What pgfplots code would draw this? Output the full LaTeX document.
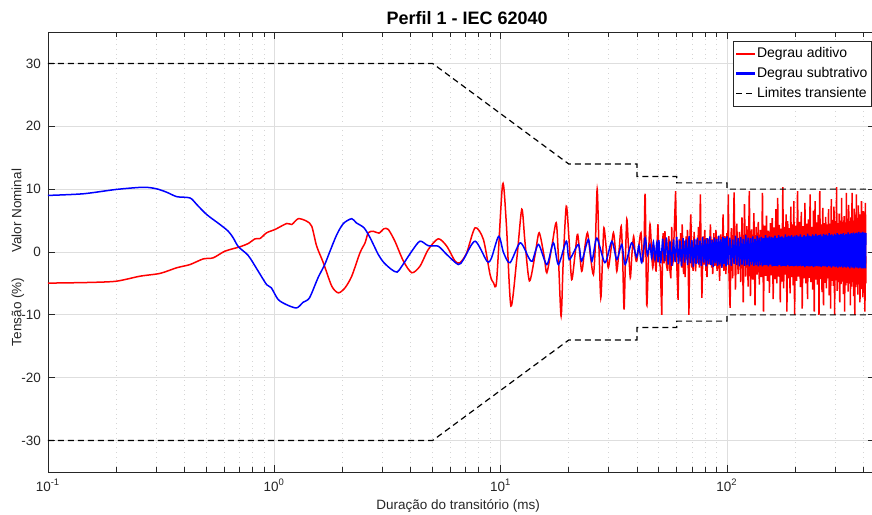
\documentclass[border=0pt]{standalone}
\usepackage{fontspec}
\setmainfont{Liberation Sans}
\usepackage{pgfplots}
\pgfplotsset{compat=1.18}
\definecolor{axgray}{RGB}{38,38,38}
\definecolor{gridgray}{RGB}{222,222,222}
\newcommand{\fs}{\fontsize{6.75}{8}\selectfont}
\begin{document}
\begin{tikzpicture}
\begin{axis}[
  at={(24pt,21pt)}, anchor=south west,
  scale only axis, width=413.4pt, height=220pt,
  xmode=log, xmin=0.1, xmax=450, ymin=-35, ymax=35,
  xtick={0.1,1,10,100},
  xticklabels={10\textsuperscript{-1},10\textsuperscript{0},10\textsuperscript{1},10\textsuperscript{2}},
  minor xtick={0.2,0.3,0.4,0.5,0.6,0.7,0.8,0.9,2,3,4,5,6,7,8,9,20,30,40,50,60,70,80,90,200,300,400},
  ytick={-30,-20,-10,0,10,20,30},
  yticklabels={-30,-20,-10,0,10,20,30},
  tick align=inside, tick pos=both,
  major tick length=3.5pt, minor tick length=2.5pt,
  xmajorgrids, xminorgrids, ymajorgrids,
  major grid style={color=gridgray, line width=0.4pt},
  minor grid style={color=gridgray!90!gray, dotted, line width=0.4pt},
  axis line style={color=axgray, line width=0.45pt},
  every tick/.style={color=axgray, line width=0.4pt},
  tick label style={font=\fs, color=axgray},
  every axis title shift=0pt,
  title={Perfil 1 - IEC 62040},
  title style={at={(axis description cs:0.507,1.032)}, anchor=center, yshift=0pt, font=\bfseries\fontsize{9}{11}\selectfont},
  xlabel={Duração do transitório (ms)},
  xlabel style={at={(axis description cs:0.496,-0.077)}, anchor=center, font=\fs, color=axgray},
  ylabel={Tensão (\%)\hspace{12.5pt}Valor Nominal},
  ylabel style={at={(axis description cs:-0.0363,0.4875)}, anchor=center, font=\fs, color=axgray},
  legend style={at={(axis description cs:0.829,0.980)}, anchor=north west, draw=axgray, line width=0.4pt, fill=white, font=\fontsize{7}{8}\selectfont, inner xsep=1pt, inner ysep=2pt, row sep=1.2pt, nodes={inner sep=1pt, text height=5.2pt, text depth=1.5pt}},
  legend cell align=left,
]
% Degrau aditivo (0.1 - 50 ms)
\addplot[color=red, line width=0.75pt, smooth, tension=0.45, forget plot] coordinates {
(0.1,-4.95)(0.15,-4.85)(0.2,-4.65)(0.255,-3.85)(0.313,-3.4)(0.371,-2.5)(0.424,-2.0)(0.485,-1.1)(0.537,-0.93)(0.605,0.13)(0.705,0.83)(0.767,1.35)(0.822,2.1)(0.865,2.15)(0.925,3.06)(1.007,3.58)(1.135,4.54)(1.194,4.38)(1.277,5.3)(1.39,4.9)(1.463,4.1)(1.539,0.92)(1.647,-1.72)(1.794,-5.44)(1.919,-6.5)(2.053,-5.7)(2.198,-3.85)(2.39,-0.13)(2.517,1.46)(2.6,3.06)(2.737,3.3)(2.9,3.0)(3.05,3.7)(3.19,3.58)(3.41,1.72)(3.72,-1.46)(4.05,-3.3)(4.4,-2.26)(4.79,0.4)(5.3,2.1)(5.78,0.92)(6.29,-1.46)(6.62,-1.7)(7.08,-0.13)(7.71,3.85)(8.39,2.0)(8.98,-3.6)(9.3,-4.9)(9.6,-4.6)(10.2,10.75)(10.6,4.4)(11.1,-8.6)(11.8,-0.9)(12.4,6.8)(12.8,1.7)(13.4,-4.6)(14.2,-0.4)(14.8,3.06)(15.6,-0.9)(16.0,-3.3)(16.8,0.67)(17.6,4.65)(18.0,-0.9)(18.5,-10.2)(18.9,-1.5)(19.5,7.3)
(20.05,2.0)(20.6,-4.4)(21.3,-0.5)(21.9,2.8)(22.8,-3.06)(23.5,0.5)(24.2,3.06)(25.0,-1.0)(25.7,-3.6)(26.2,1.0)(26.7,10.0)(27.2,0.5)(27.7,-7.3)(28.2,-1.0)(28.6,3.85)(29.3,0.5)(29.9,-2.5)(30.7,0.3)(31.5,3.06)(32.1,0.5)(32.6,-3.06)(33.4,0.5)(34.1,4.1)(34.6,-1.0)(35.1,-9.15)(35.6,-1.0)(36.1,5.2)(36.7,0.8)(37.4,-4.1)(38.0,-0.5)(38.7,2.5)(39.3,-0.5)(39.9,-1.5)(40.8,1.0)(41.7,3.06)(42.4,-1.5)(43.0,0.5)(43.5,9.15)(44.2,-8.4)(45.0,-0.5)(45.7,4.4)(46.4,0.5)(47.0,-2.5)(47.8,0.5)(48.6,-3.0)(49.5,4.4)
};
% Degrau aditivo (50 - 412 ms)
\addplot[color=red, line width=0.75pt, forget plot] coordinates {
(49.5,4.4)(50.2,-1.5)(50.8,-2.5)(51.5,-10.0)(52.0,2.0)(52.3,3.0)(52.8,-1.8)(53.2,3.3)(54.0,-2.0)(54.6,-3.0)(55.0,1.5)(55.4,2.5)(55.8,-2.5)(56.5,-4.2)(57.0,4.0)(57.4,-2.2)(57.8,-1.5)(58.5,3.5)(59.3,9.7)(60.0,-2.0)(60.8,-7.6)(61.5,2.0)(62.0,-1.5)(62.4,3.0)(63.0,-2.5)(63.4,4.4)(64.3,-3.5)(64.8,1.8)(65.3,-4.0)(66.0,2.5)(66.5,-1.2)(66.9,3.5)(67.4,-2.0)(67.9,-10.0)(68.5,1.5)(69.2,6.0)(70.0,-2.5)(70.4,1.2)(70.8,-3.0)(71.6,3.2)(72.2,-1.5)(72.7,-3.06)(73.5,2.0)(74.2,-1.8)(74.8,4.0)(75.5,-2.5)(76.3,9.15)(77.0,-2.0)(77.5,-7.3)(78.5,2.5)(79.2,-2.0)(79.8,3.5)(80.7,-3.0)(81.2,2.2)(81.6,-4.0)(82.5,2.0)(83.5,-2.0)(84.0,1.5)(84.5,4.4)(85.5,-2.5)(86.0,2.0)(86.5,-3.5)(87.5,3.0)(88.4,-2.2)(89.4,3.5)(90.0,-1.8)(90.5,-3.0)(91.5,2.5)(92.2,-1.5)(92.8,-4.6)(93.8,2.8)(94.4,-1.6)(95.0,-2.5)(96.1,6.0)(97.0,-3.0)(97.5,1.8)(98.0,2.5)(98.9,-3.5)(100.0,3.0)(100.7,-2.0)(101.4,9.15)(102.0,-3.0)(103.2,-8.9)
(104.5,3.8)(106,-4.2)(107.5,9.5)(109,-6.0)(110.5,4.5)(112,-3.5)(113.5,3.2)(115,-4.8)(116.5,5.5)(118,-8.0)(119.5,7.6)(121,-3.9)(122.5,4.1)(124,-5.5)(125.5,9.7)(127,-7.0)(128.5,3.6)(130,-4.4)(131.5,6.2)(133,-8.5)(134.5,4.0)(136,-3.6)(137.5,4.8)(139,-5.2)(140.5,3.5)(142,-4.0)(143.5,9.4)(145,-9.5)(146.5,4.2)(148,-3.8)(149.5,5.8)(151,-4.6)(152.5,3.4)(154,-6.5)(155.5,4.6)(157,-3.7)(158.5,5.4)(160,-7.5)(161.5,3.9)(163,-4.3)(164.5,6.8)(166,-5.0)(167.5,8.6)(169,-3.9)(170.5,4.3)(172,-8.0)(173.5,3.7)(175,-4.7)(176.5,10.3)(178,-5.8)(179.5,4.0)(181,-3.6)(182.5,6.0)(184,-9.5)(185.5,4.9)(187,-4.2)(188.5,3.8)(190,-6.6)(191.5,7.2)(193,-4.0)(194.5,4.4)(196,-5.3)(197.5,8.1)(199,-10.0)
(201,4.2)(203,-4.6)(205,9.7)(207,-3.9)(209,4.8)(211,-5.6)(213,6.4)(215,-9.0)(217,4.1)(219,-4.2)(221,7.8)(223,-5.0)(225,4.5)(227,-7.5)(229,5.2)(231,-4.1)(233,9.15)(235,-4.8)(237,4.0)(239,-6.0)(241,6.6)(243,-9.5)(245,8.1)(247,-4.4)(249,4.7)(251,-5.2)(253,5.9)(255,-10.0)(257,9.7)(259,-4.3)(261,4.4)(263,-6.4)(265,7.0)(267,-8.5)(269,4.6)(271,-4.9)(273,5.6)(275,-5.8)(277,4.4)(279,-4.2)(281,6.8)(283,-6.9)(285,4.5)(287,-9.0)(289,8.4)(291,-4.6)(293,5.1)(295,-5.4)(297,7.2)(299,-10.0)(301,4.9)(303,-4.5)(305,10.3)(307,-6.2)(309,4.6)(311,-4.8)(313,6.1)(315,-8.0)(317,5.0)(319,-5.1)(321,8.6)(323,-4.7)(325,4.8)(327,-6.7)(329,5.7)(331,-9.5)(333,4.7)(335,-5.3)(337,9.4)(339,-4.9)(341,5.3)(343,-6.3)(345,7.5)(347,-5.0)(349,4.9)(351,-8.5)(353,5.5)(355,-5.5)(357,9.4)(359,-4.8)(361,5.0)(363,-7.0)(365,6.9)(367,-10.0)(369,4.8)(371,-5.6)(373,9.15)(375,-5.2)(377,5.4)(379,-6.8)(381,7.4)(383,-5.0)(385,5.2)(387,-8.0)(389,6.0)(391,-5.4)(393,8.1)(395,-5.9)(397,5.1)(399,-7.2)(401,6.5)(403,-5.3)(405,5.8)(407,-9.5)(409,7.8)(411,-5.0)
};
% Degrau subtrativo (0.1 - 50 ms)
\addplot[color=blue, line width=0.75pt, smooth, tension=0.45, forget plot] coordinates {
(0.1,9.0)(0.143,9.26)(0.2,9.95)(0.264,10.3)(0.302,10.05)(0.335,9.5)(0.371,8.8)(0.424,8.6)(0.454,7.56)(0.502,5.97)(0.575,4.38)(0.626,3.3)(0.658,2.26)(0.694,0.83)(0.767,-0.56)(0.849,-3.06)(0.925,-5.2)(0.97,-5.7)(1.04,-7.56)(1.135,-8.4)(1.255,-8.9)(1.34,-8.0)(1.43,-7.3)(1.56,-4.1)(1.67,-2.0)(1.762,0.13)(1.89,2.8)(2.02,4.54)(2.198,5.3)(2.3,4.65)(2.49,3.85)(2.65,2.26)(2.88,-0.4)(3.05,-1.7)(3.30,-2.8)(3.49,-3.2)(3.66,-2.26)(4.05,0.13)(4.40,1.72)(4.79,1.0)(5.3,0.92)(5.78,-0.4)(6.5,-2.0)(6.85,-1.2)(7.71,1.72)(8.7,-1.46)(9.1,-1.0)(9.8,2.5)(10.3,-0.1)(11.0,-1.7)(12.2,1.46)(13.3,-0.9)(13.8,-1.46)(14.7,1.2)(16.0,-2.0)(17.1,1.46)(18.0,-2.0)(19.5,1.72)
(20.1,-1.2)(22.05,1.2)(22.8,-1.46)(24.4,2.0)(25.3,-1.5)(26.6,2.2)(28.9,-1.7)(31.0,1.7)(32.6,-1.2)(34.3,1.2)(35.5,-2.0)(37.9,1.46)(39.9,-0.8)(40.8,1.0)(42.0,-1.7)(43.5,2.26)(44.5,-0.5)(45.7,1.2)(46.5,-1.0)(47.3,1.6)(48.1,-1.2)(49.0,1.5)(49.6,-1.6)
};
% Degrau subtrativo (50 - 412 ms)
\addplot[color=blue, line width=0.75pt, forget plot] coordinates {
(49.6,-1.6)(50,1.9)(51,-1.8)(52,2.1)(53,-1.5)(54,2.3)(55,-2.0)(56,1.7)(57,-2.2)(58,2.0)(59,-1.6)(60,2.4)(61,-1.9)(62,1.8)(63,-2.3)(64,2.2)(65,-1.7)(66,2.0)(67,-2.1)(68,2.5)(69,-1.8)(70,1.9)(71,-2.4)(72,2.1)(73,-1.9)(74,2.3)(75,-2.0)(76,1.8)(77,-2.2)(78,2.4)(79,-1.7)(80,2.0)(81,-2.3)(82,2.2)(83,-1.9)(84,2.5)(85,-2.1)(86,1.9)(87,-2.4)(88,2.3)(89,-1.8)(90,2.1)(91,-2.2)(92,2.6)(93,-2.0)(94,2.0)(95,-2.5)(96,2.4)(97,-1.9)(98,2.2)(99,-2.3)(100,2.5)
(101.5,-2.1)(103,2.3)(104.5,-2.2)(106,2.0)(107.5,-1.9)(109,2.6)(110.5,-2.1)(112,2.2)(113.5,-2.3)(115,2.4)(116.5,-2.0)(118,2.1)(119.5,-2.2)(121,2.7)(122.5,-2.1)(124,2.3)(125.5,-2.3)(127,2.2)(128.5,-2.0)(130,2.5)(131.5,-2.2)(133,2.1)(134.5,-2.1)(136,2.6)(137.5,-2.3)(139,2.3)(140.5,-2.1)(142,2.4)(143.5,-2.3)(145,2.2)(146.5,-2.1)(148,2.7)(149.5,-2.1)(151,2.3)(152.5,-2.3)(154,2.5)(155.5,-2.0)(157,2.4)(158.5,-2.3)(160,2.3)(161.5,-2.2)(163,2.6)(164.5,-2.2)(166,2.2)(167.5,-2.3)(169,2.7)(170.5,-2.1)(172,2.4)(173.5,-2.3)(175,2.5)(176.5,-2.2)(178,2.3)(179.5,-2.2)(181,2.8)(182.5,-2.3)(184,2.4)(185.5,-2.1)(187,2.6)(188.5,-2.3)(190,2.5)(191.5,-2.2)(193,2.7)(194.5,-2.2)(196,2.4)(197.5,-2.3)(199,2.6)
(201,-2.2)(203,2.7)(205,-2.3)(207,2.5)(209,-2.2)(211,2.8)(213,-2.3)(215,2.4)(217,-2.2)(219,2.7)(221,-2.4)(223,2.5)(225,-2.2)(227,2.9)(229,-2.3)(231,2.6)(233,-2.3)(235,2.5)(237,-2.2)(239,2.8)(241,-2.4)(243,2.6)(245,-2.3)(247,2.9)(249,-2.2)(251,2.6)(253,-2.3)(255,2.7)(257,-2.3)(259,2.8)(261,-2.4)(263,2.5)(265,-2.2)(267,2.9)(269,-2.3)(271,2.7)(273,-2.3)(275,2.8)(277,-2.4)(279,2.6)(281,-2.2)(283,3.0)(285,-2.3)(287,2.7)(289,-2.5)(291,2.8)(293,-2.3)(295,2.6)(297,-2.3)(299,2.9)(301,-2.4)(303,2.7)(305,-2.3)(307,3.0)(309,-2.5)(311,2.8)(313,-2.3)(315,2.7)(317,-2.4)(319,2.9)(321,-2.3)(323,2.8)(325,-2.5)(327,3.0)(329,-2.3)(331,2.7)(333,-2.4)(335,2.9)(337,-2.5)(339,2.8)(341,-2.3)(343,3.1)(345,-2.4)(347,2.8)(349,-2.6)(351,2.9)(353,-2.3)(355,3.0)(357,-2.5)(359,2.8)(361,-2.4)(363,3.1)(365,-2.6)(367,2.9)(369,-2.3)(371,3.0)(373,-2.5)(375,3.1)(377,-2.4)(379,2.9)(381,-2.6)(383,3.2)(385,-2.5)(387,2.9)(389,-2.4)(391,3.1)(393,-2.6)(395,3.0)(397,-2.5)(399,3.2)(401,-2.6)(403,3.0)(405,-2.4)(407,3.1)(409,-2.6)(411,3.0)
};
% Limites
\addplot[color=black, line width=0.6pt, dash pattern=on 3pt off 2pt, forget plot] coordinates {
(0.1,30)(5,30)(20,14)(40,14)(40,12)(60,12)(60,11)(100,11)(100,10)(412,10)
};
\addplot[color=black, line width=0.6pt, dash pattern=on 3pt off 2pt, forget plot] coordinates {
(0.1,-30)(5,-30)(20,-14)(40,-14)(40,-12)(60,-12)(60,-11)(100,-11)(100,-10)(412,-10)
};
\addlegendimage{legend image code/.code={\fill[red] (0pt,-0.45pt) rectangle (9pt,0.45pt);}}
\addlegendentry{Degrau aditivo}
\addlegendimage{legend image code/.code={\fill[blue] (0pt,-0.45pt) rectangle (9pt,0.45pt);}}
\addlegendentry{Degrau subtrativo}
\addlegendimage{legend image code/.code={\draw[black, line width=0.6pt, dash pattern=on 3pt off 2pt] (0pt,0pt) -- (9pt,0pt);}}
\addlegendentry{Limites transiente}
\end{axis}
\pgfresetboundingbox
\path[use as bounding box] (0,0) rectangle (436pt,257pt);
\end{tikzpicture}
\end{document}
